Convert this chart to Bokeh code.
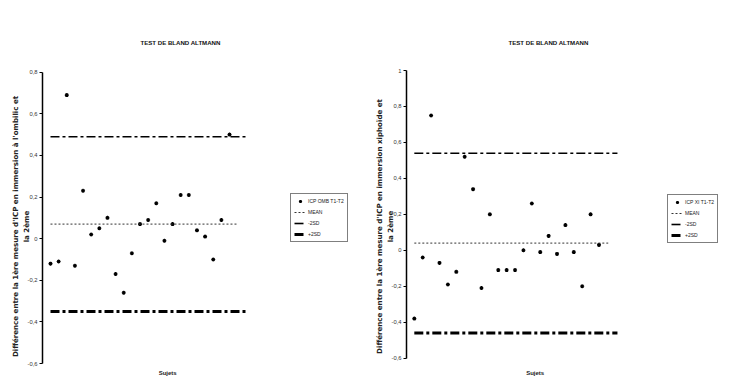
from bokeh.plotting import figure
from bokeh.models import Range1d, FixedTicker, CustomJSTickFormatter, Legend, LegendItem
from bokeh.layouts import row
from bokeh.core.properties import value
from bokeh.embed import file_html
from bokeh.resources import INLINE

# ---------------- data ----------------
subjects = list(range(1, 24))
omb_diff = [-0.12, -0.11, 0.69, -0.13, 0.23, 0.02, 0.05, 0.10, -0.17, -0.26, -0.07, 0.07,
            0.09, 0.17, -0.01, 0.07, 0.21, 0.21, 0.04, 0.01, -0.10, 0.09, 0.50]
xi_diff = [-0.38, -0.04, 0.75, -0.07, -0.19, -0.12, 0.52, 0.34, -0.21, 0.20, -0.11, -0.11,
           -0.11, 0.00, 0.26, -0.01, 0.08, -0.02, 0.14, -0.01, -0.20, 0.20, 0.03]
omb_stats = {"mean": 0.07, "lo": -0.35, "hi": 0.49}
xi_stats = {"mean": 0.04, "lo": -0.46, "hi": 0.54}
sd_line_x = [1, 25.2]
mean_line_x = [1, 24.1]
omb_ticks = [-0.6, -0.4, -0.2, 0, 0.2, 0.4, 0.6, 0.8]
xi_ticks = [-0.6, -0.4, -0.2, 0, 0.2, 0.4, 0.6, 0.8, 1]
legend_labels_omb = ["ICP OMB T1-T2", "MEAN", "-2SD", "+2SD"]
legend_labels_xi = ["ICP XI T1-T2", "MEAN", "-2SD", "+2SD"]
title_text = "TEST DE BLAND ALTMANN"
xlabel_text = "Sujets"
ylabel_omb = "Différence entre la 1ère mesure d'ICP en immersion à l'ombilic et\nla 2ème"
ylabel_xi = "Différence entre la 1ère mesure d'ICP en immersion xiphoïde et\nla 2ème"

FONT = "Liberation Sans"
LABEL_FONT = "DejaVu Sans"
fmt_code = "var s = (Math.round(tick*10)/10).toString(); return s.replace('.', ',');"


def panel(vals, stats, ticks, labels, ylabel, xr, yr, title_offset, sujets_xy, leg_loc,
          width, border_left):
    p = figure(width=width, height=385, x_range=Range1d(*xr), y_range=Range1d(*yr),
               x_axis_location=None, toolbar_location=None, output_backend="svg",
               min_border_left=border_left, min_border_right=0, min_border_top=67,
               min_border_bottom=0, title=title_text)
    p.outline_line_color = None
    p.grid.visible = False
    p.background_fill_color = "white"

    p.title.align = "left"
    p.title.offset = title_offset
    p.title.text_font = FONT
    p.title.text_font_style = "bold"
    p.title.text_font_size = "6.1px"
    p.title.text_color = "#111111"
    p.title.vertical_align = "bottom"
    p.title.standoff = 43

    ax = p.yaxis[0]
    ax.bounds = (ticks[0], ticks[-1])
    ax.ticker = FixedTicker(ticks=ticks)
    ax.formatter = CustomJSTickFormatter(code=fmt_code)
    ax.major_tick_out = 3
    ax.major_tick_in = 0
    ax.minor_tick_out = 0
    ax.minor_tick_in = 0
    ax.axis_line_width = 1.5
    ax.axis_line_color = "black"
    ax.major_tick_line_width = 1
    ax.major_tick_line_color = "black"
    ax.major_label_text_font_size = "5.8px"
    ax.major_label_text_font = FONT
    ax.major_label_text_color = "#333333"
    ax.major_label_standoff = 2
    ax.axis_label = ylabel
    ax.axis_label_text_font = LABEL_FONT
    ax.axis_label_text_font_style = "bold"
    ax.axis_label_text_font_size = "7.1px"
    ax.axis_label_text_color = "#222222"
    ax.axis_label_standoff = -6

    r_pts = p.scatter(subjects, vals, marker="asterisk", size=4, line_width=1.1,
                      line_color="black")
    r_mean = p.line(mean_line_x, [stats["mean"]] * 2, line_color="#333333",
                    line_width=1, line_dash="2 2")
    r_hi = p.line(sd_line_x, [stats["hi"]] * 2, line_color="black", line_width=1.6,
                  line_dash="9 3 3 3")
    r_lo = p.line(sd_line_x, [stats["lo"]] * 2, line_color="black", line_width=3,
                  line_dash="9 3 3 3")

    p.text(x=[sujets_xy[0]], y=[sujets_xy[1]], text=[xlabel_text], text_font=value(FONT),
           text_font_style="bold", text_font_size="6px", text_align="center",
           text_baseline="middle", text_color="#222222")

    leg = Legend(items=[LegendItem(label=labels[0], renderers=[r_pts]),
                        LegendItem(label=labels[1], renderers=[r_mean]),
                        LegendItem(label=labels[2], renderers=[r_hi]),
                        LegendItem(label=labels[3], renderers=[r_lo])],
                 location=leg_loc)
    leg.label_text_font = FONT
    leg.label_text_font_size = "5px"
    leg.label_text_color = "#222222"
    leg.glyph_width = 12
    leg.glyph_height = 8
    leg.label_height = 8
    leg.label_standoff = 2
    leg.spacing = 3
    leg.padding = 3
    leg.margin = 0
    leg.border_line_color = "black"
    leg.border_line_width = 1
    p.add_layout(leg)
    return p


p1 = panel(omb_diff, omb_stats, omb_ticks, legend_labels_omb, ylabel_omb,
           xr=(0.017, 40.08), yr=(-0.7057, 0.8226), title_offset=98,
           sujets_xy=(15.4, -0.648), leg_loc=(248, 143), width=368, border_left=42)
p2 = panel(xi_diff, xi_stats, xi_ticks, legend_labels_xi, ylabel_xi,
           xr=(0.069, 41.05), yr=(-0.752, 1.0167), title_offset=102,
           sujets_xy=(15.4, -0.68), leg_loc=(261, 142), width=382, border_left=38)

layout = row(p1, p2)
open("out.html", "w").write(file_html(layout, INLINE))
